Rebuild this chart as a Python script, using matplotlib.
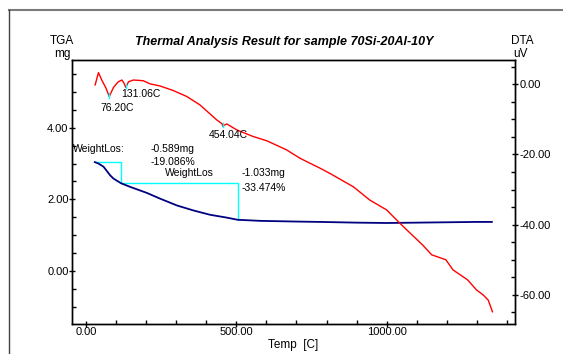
#!/usr/bin/env python3

import matplotlib.pyplot as plt
from matplotlib.lines import Line2D
from matplotlib.ticker import MultipleLocator, FormatStrFormatter

plt.rcParams['font.family'] = ['Liberation Sans', 'DejaVu Sans']

# TGA curve (mg)
tga_temp = [29, 41, 58, 80, 91, 116, 146, 202, 246, 302, 357, 412, 468, 504,
            579, 700, 778, 900, 1000, 1100, 1200, 1300, 1350]
tga_mg = [3.04, 3.00, 2.91, 2.67, 2.58, 2.45, 2.35, 2.18, 2.02, 1.83, 1.69, 1.57, 1.49, 1.43,
          1.40, 1.38, 1.37, 1.35, 1.34, 1.35, 1.36, 1.37, 1.37]

# DTA curve (uV)
dta_temp = [30, 41, 52, 66, 77, 91, 107, 119, 126, 132, 141, 157, 190, 213, 246, 290,
            335, 379, 435, 453, 454, 468, 501, 556, 601, 667, 712, 778, 811, 889,
            944, 1000, 1044, 1067, 1120, 1150, 1197, 1221, 1269, 1299, 1321, 1338, 1352]
dta_uv = [-0.2, 3.3, 1.2, -1.1, -3.5, -0.9, 0.7, 1.2, 0.3, -0.9, 0.7, 1.2, 1.0, 0.1, -0.5, -1.8,
          -3.5, -5.9, -10.2, -11.3, -11.9, -11.3, -13.0, -14.9, -16.1, -18.7, -21.1, -23.9, -25.4, -29.2,
          -33.0, -35.8, -39.6, -41.5, -45.8, -48.6, -50.0, -52.9, -55.7, -58.6, -60.0, -61.5, -64.8]

# weight loss steps
step_temp = [29, 117, 117, 504, 504]
step_mg = [3.04, 3.04, 2.45, 2.45, 1.43]

# peaks
peak_temp = [76.20, 131.06, 454.04]
peak_uv = [-3.5, -0.9, -11.9]

fig = plt.figure(figsize=(5.63, 3.54), dpi=100)
ax = fig.add_axes([0.1279, 0.0847, 0.7868, 0.7458])
ax2 = ax.twinx()

ax.set_xlim(-47, 1427)
ax.set_ylim(-1.48, 5.89)
ax2.set_ylim(-68.3, 6.9)

ax.plot(step_temp, step_mg, color='#00ffff', lw=1.0, zorder=2)
ax.plot(tga_temp, tga_mg, color='#000080', lw=1.3, zorder=3)
ax2.plot(dta_temp, dta_uv, color='#ff0000', lw=1.0)
for t, v in zip(peak_temp, peak_uv):
    ax2.plot([t, t], [v - 0.3, v + 0.9], color='#00ffff', lw=1.0)

for a in (ax, ax2):
    for s in a.spines.values():
        s.set_linewidth(1.0)
        s.set_color('black')

ax.xaxis.set_major_locator(MultipleLocator(500))
ax.xaxis.set_minor_locator(MultipleLocator(100))
ax.xaxis.set_major_formatter(FormatStrFormatter('%.2f'))
ax.yaxis.set_major_locator(MultipleLocator(2))
ax.yaxis.set_minor_locator(MultipleLocator(0.5))
ax.yaxis.set_major_formatter(FormatStrFormatter('%.2f'))
ax2.yaxis.set_major_locator(MultipleLocator(20))
ax2.yaxis.set_minor_locator(MultipleLocator(5))
ax2.yaxis.set_major_formatter(FormatStrFormatter('%.2f'))

ax.tick_params(axis='both', which='major', direction='inout', length=5, width=1,
               labelsize=8, pad=0)
ax.tick_params(axis='both', which='minor', direction='in', length=3, width=1)
ax2.tick_params(axis='y', which='major', direction='inout', length=5, width=1,
                labelsize=8, pad=1)
ax2.tick_params(axis='y', which='minor', direction='in', length=3, width=1)

ax.set_xlabel('Temp  [C]', fontsize=8.5, labelpad=1)

fig.text(0.505, 0.882, 'Thermal Analysis Result for sample 70Si-20Al-10Y',
         ha='center', va='center', fontsize=9, fontweight='bold', fontstyle='italic')
fig.text(62 / 563, 1 - 41 / 354, 'TGA', ha='center', va='center', fontsize=8.5)
fig.text(62 / 563, 1 - 54 / 354, 'mg', ha='center', va='center', fontsize=8.5)
fig.text(522 / 563, 1 - 41 / 354, 'DTA', ha='center', va='center', fontsize=8.5)
fig.text(520 / 563, 1 - 54 / 354, 'uV', ha='center', va='center', fontsize=8.5)

# peak labels
ax2.text(47, -6.8, '76.20C', fontsize=7.5, va='center')
ax2.text(117, -2.8, '131.06C', fontsize=7.5, va='center')
ax2.text(408, -14.4, '454.04C', fontsize=7.5, va='center')

# weight loss labels
ax.text(-45, 3.40, 'WeightLos:', fontsize=7.5, va='center')
ax.text(214, 3.40, '-0.589mg', fontsize=7.5, va='center')
ax.text(214, 3.03, '-19.086%', fontsize=7.5, va='center')
ax.text(262, 2.73, 'WeightLos', fontsize=7.5, va='center')
ax.text(518, 2.73, '-1.033mg', fontsize=7.5, va='center')
ax.text(518, 2.31, '-33.474%', fontsize=7.5, va='center')

# outer frame
fig.add_artist(Line2D([9 / 563, 1], [1 - 9.5 / 354, 1 - 9.5 / 354],
                      transform=fig.transFigure, color='#7a7a7a', lw=1.5))
fig.add_artist(Line2D([9 / 563, 9 / 563], [0, 1 - 9.5 / 354],
                      transform=fig.transFigure, color='#404040', lw=1.0))

plt.savefig('out.png', dpi=100)
plt.close()
